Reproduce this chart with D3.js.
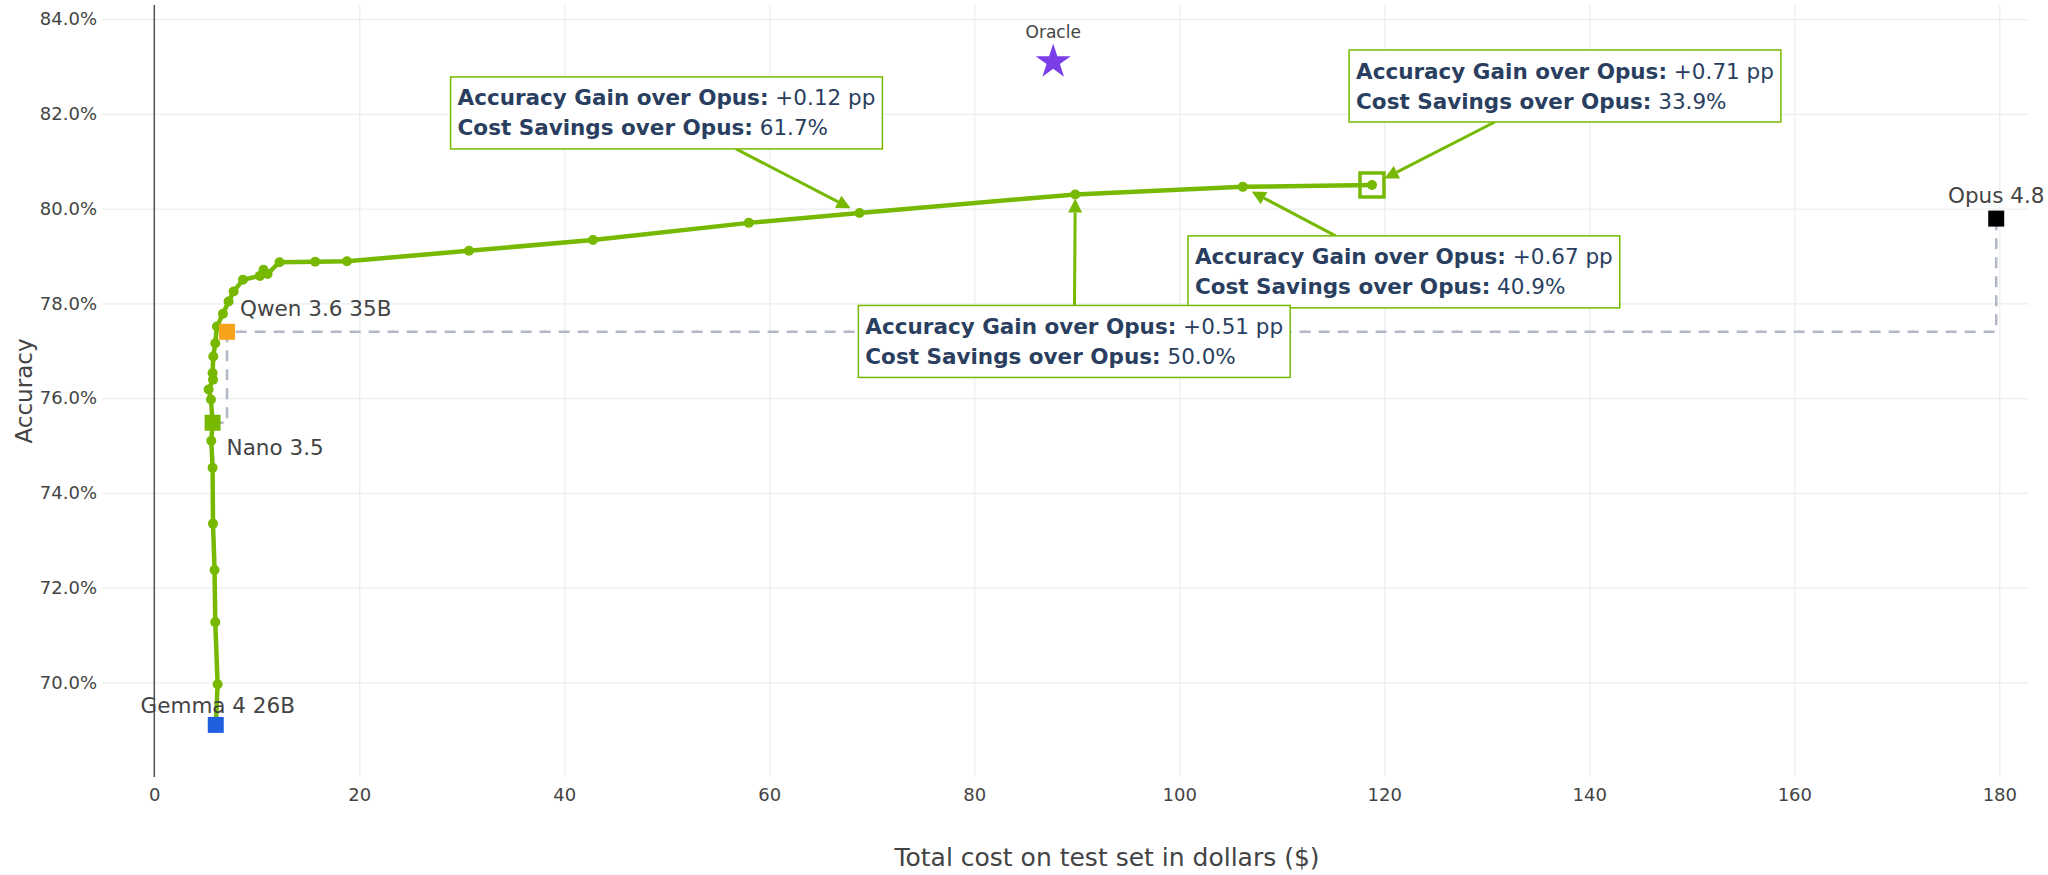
<!DOCTYPE html>
<html>
<head>
<meta charset="utf-8">
<script src="https://cdn.jsdelivr.net/npm/d3@7"></script>
<style>
body { margin: 0; background: #fff; }
text { font-family: "DejaVu Sans", Verdana, sans-serif; }
</style>
</head>
<body>
<div id="chart"></div>
<script>
// ---- data ----
var curveCost = [6.0, 6.18, 5.95, 5.88, 5.73, 5.69, 5.56, 5.69, 5.53, 5.30, 5.73, 5.69, 5.76, 5.95, 6.11,
    6.70, 7.25, 7.74, 8.65, 10.3, 10.66, 11.05, 12.22, 15.7, 18.8, 30.7, 42.8, 58.0, 68.8, 89.85, 106.2, 118.8];
var curveAcc = [69.1, 69.96, 71.27, 72.37, 73.35, 74.53, 75.10, 75.48, 75.97, 76.18, 76.39, 76.53, 76.88, 77.16, 77.51,
    77.78, 78.04, 78.25, 78.50, 78.58, 78.71, 78.62, 78.87, 78.88, 78.89, 79.11, 79.34, 79.70, 79.91, 80.30, 80.46, 80.50];

var modelNames = ["Gemma 4 26B", "Nano 3.5", "Qwen 3.6 35B", "Opus 4.8"];
var modelCost = [6.0, 5.69, 7.1, 179.7];
var modelAcc = [69.1, 75.48, 77.4, 79.79];

// baseline step line goes through these models
var baselineModels = ["Nano 3.5", "Qwen 3.6 35B", "Opus 4.8"];

var oracleName = ["Oracle"];
var oracleCost = [87.7];
var oracleAcc = [83.1];

var annCost = [68.8, 118.8, 106.2, 89.85];
var annAcc = [79.91, 80.50, 80.46, 80.30];
var annGain = ["+0.12 pp", "+0.71 pp", "+0.67 pp", "+0.51 pp"];
var annSave = ["61.7%", "33.9%", "40.9%", "50.0%"];

var xTicks = [0, 20, 40, 60, 80, 100, 120, 140, 160, 180];
var yTicks = [70, 72, 74, 76, 78, 80, 82, 84];

// ---- layout / style ----
var svgWidth = 2048;
var svgHeight = 875;
var margin = { top: 5, bottom: 98, left: 102, right: 20 };
var width = svgWidth - (margin.left + margin.right);
var height = svgHeight - (margin.top + margin.bottom);

var green = "#76b900";
var modelStyle = {
    "Gemma 4 26B": { color: "#1f5fe0", dx: 2, dy: -19, anchor: "middle" },
    "Nano 3.5": { color: green, dx: 14, dy: 25, anchor: "start" },
    "Qwen 3.6 35B": { color: "#f7a21b", dx: 13, dy: -23, anchor: "start" },
    "Opus 4.8": { color: "#000", dx: 0, dy: -23, anchor: "middle" }
};
// box centre offsets from the arrow target in px, plus standoff (like plotly ax/ay)
var annLayout = [
    { ax: -193, ay: -100, standoff: 10 },
    { ax: 193, ay: -99, standoff: 14 },
    { ax: 161, ay: 85, standoff: 10 },
    { ax: -1, ay: 147, standoff: 4 }
];

var svg = d3.select("#chart")
    .append("svg")
    .attr("width", svgWidth)
    .attr("height", svgHeight);

svg.append("rect").attr("width", svgWidth).attr("height", svgHeight).attr("fill", "#fff");

var chart = svg.append("g")
    .attr("transform", `translate(${margin.left}, ${margin.top})`);

var x = d3.scaleLinear().domain([-5.1, 182.8]).range([0, width]);
var y = d3.scaleLinear().domain([68.0, 84.3]).range([height, 0]);

// grid + tick labels
var yAxis = chart.append("g")
    .call(d3.axisLeft(y).tickValues(yTicks).tickSize(-width).tickPadding(5)
        .tickFormat(d => d.toFixed(1) + "%"));
var xAxis = chart.append("g")
    .attr("transform", `translate(0,${height})`)
    .call(d3.axisBottom(x).tickValues(xTicks).tickSize(-height).tickPadding(11));

[xAxis, yAxis].forEach(function (a) {
    a.select(".domain").remove();
    a.selectAll("line").attr("stroke", "#ebedf0").attr("stroke-width", 1.2);
    a.selectAll("text").attr("fill", "#444").style("font-size", "18px");
});

// zero line at cost 0
chart.append("line")
    .attr("x1", x(0)).attr("x2", x(0))
    .attr("y1", 0).attr("y2", height)
    .attr("stroke", "#555").attr("stroke-width", 1.5);

// dashed baseline steps between the single models
var basePts = baselineModels.map(n => {
    var i = modelNames.indexOf(n);
    return [modelCost[i], modelAcc[i]];
});
chart.append("path")
    .attr("d", d3.line().x(d => x(d[0])).y(d => y(d[1])).curve(d3.curveStepAfter)(basePts))
    .attr("fill", "none")
    .attr("stroke", "#b3b8c6")
    .attr("stroke-width", 2.5)
    .attr("stroke-dasharray", "11,8");

// the router curve
var curve = curveCost.map((c, i) => [c, curveAcc[i]]);
chart.append("path")
    .attr("d", d3.line().x(d => x(d[0])).y(d => y(d[1]))(curve))
    .attr("fill", "none")
    .attr("stroke", green)
    .attr("stroke-width", 4.5)
    .attr("stroke-linejoin", "round");

chart.selectAll(".dot")
    .data(curve)
    .enter()
    .append("circle")
    .attr("class", "dot")
    .attr("cx", d => x(d[0]))
    .attr("cy", d => y(d[1]))
    .attr("r", 5)
    .attr("fill", green);

// hollow square on the last point
var last = curve[curve.length - 1];
chart.append("rect")
    .attr("x", x(last[0]) - 12).attr("y", y(last[1]) - 12)
    .attr("width", 24).attr("height", 24)
    .attr("fill", "none")
    .attr("stroke", green)
    .attr("stroke-width", 3.5);

// model squares + names
modelNames.forEach(function (n, i) {
    var st = modelStyle[n];
    var px = x(modelCost[i]), py = y(modelAcc[i]);
    chart.append("path")
        .attr("d", d3.symbol(d3.symbolSquare, 256)())
        .attr("transform", `translate(${px},${py})`)
        .attr("fill", st.color);
    chart.append("text")
        .attr("x", px + st.dx)
        .attr("y", py + st.dy)
        .attr("dy", "0.35em")
        .attr("text-anchor", st.anchor)
        .attr("fill", "#444")
        .style("font-size", "21.5px")
        .text(n);
});

// oracle star
chart.append("path")
    .attr("d", d3.symbol(d3.symbolStar, 380)())
    .attr("transform", `translate(${x(oracleCost[0])},${y(oracleAcc[0])})`)
    .attr("fill", "#7b3ee8");
chart.append("text")
    .attr("x", x(oracleCost[0]))
    .attr("y", y(oracleAcc[0]) - 30)
    .attr("dy", "0.35em")
    .attr("text-anchor", "middle")
    .attr("fill", "#444")
    .style("font-size", "17px")
    .text(oracleName[0]);

// axis titles
svg.append("text")
    .attr("transform", `translate(24, ${margin.top + height / 2}) rotate(-90)`)
    .attr("dy", "0.35em")
    .attr("text-anchor", "middle")
    .attr("fill", "#444")
    .style("font-size", "23px")
    .text("Accuracy");

svg.append("text")
    .attr("x", 1107)
    .attr("y", 857)
    .attr("dy", "0.35em")
    .attr("text-anchor", "middle")
    .attr("fill", "#444")
    .style("font-size", "25px")
    .text("Total cost on test set in dollars ($)");

// ---- annotations with arrows ----
var annG = chart.append("g");
annGain.forEach(function (gain, i) {
    var lay = annLayout[i];
    var tx = x(annCost[i]), ty = y(annAcc[i]);
    var cx = tx + lay.ax, cy = ty + lay.ay;
    var g = annG.append("g");
    var rect = g.append("rect");

    var lines = [["Accuracy Gain over Opus:", gain], ["Cost Savings over Opus:", annSave[i]]];
    var texts = lines.map(function (l, k) {
        var t = g.append("text")
            .attr("y", cy + (k === 0 ? -15 : 15))
            .attr("dy", "0.35em")
            .attr("fill", "#2a3f5f")
            .style("font-size", "21.5px");
        t.append("tspan").attr("font-weight", "bold").text(l[0]);
        t.append("tspan").text("\u00a0" + l[1]);
        return t;
    });
    var w = d3.max(texts, t => t.node().getComputedTextLength());
    var pad = 7;
    var boxW = w + 2 * pad, boxH = 72;
    texts.forEach(t => t.attr("x", cx - w / 2));
    rect.attr("x", cx - boxW / 2).attr("y", cy - boxH / 2)
        .attr("width", boxW).attr("height", boxH)
        .attr("fill", "#fff")
        .attr("stroke", green)
        .attr("stroke-width", 1.5);

    // arrow from box edge to the target
    var ddx = tx - cx, ddy = ty - cy;
    var len = Math.sqrt(ddx * ddx + ddy * ddy);
    var ux = ddx / len, uy = ddy / len;
    var tipX = tx - ux * lay.standoff, tipY = ty - uy * lay.standoff;
    var k = Math.min(ddx !== 0 ? (boxW / 2) / Math.abs(ddx) : Infinity, (boxH / 2) / Math.abs(ddy));
    var sx = cx + ddx * k, sy = cy + ddy * k;
    var headL = 14, headW = 7;
    var bx = tipX - ux * headL, by = tipY - uy * headL;
    g.insert("line", "rect")
        .attr("x1", sx).attr("y1", sy)
        .attr("x2", bx).attr("y2", by)
        .attr("stroke", green)
        .attr("stroke-width", 3);
    g.append("path")
        .attr("d", `M${tipX},${tipY}L${bx - uy * headW},${by + ux * headW}L${bx + uy * headW},${by - ux * headW}Z`)
        .attr("fill", green);
});
</script>
</body>
</html>
